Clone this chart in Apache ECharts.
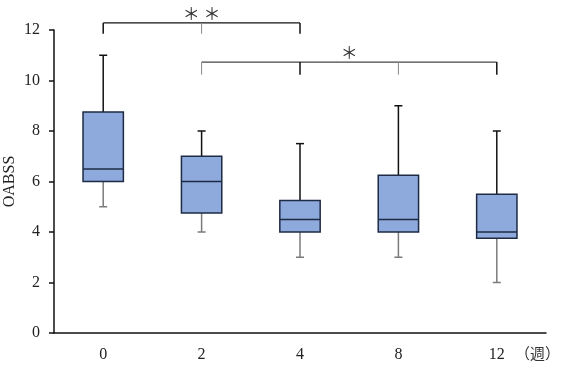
<!DOCTYPE html>
<html>
<head>
<meta charset="utf-8">
<script src="https://cdn.jsdelivr.net/npm/echarts@6/dist/echarts.min.js"></script>
</head>
<body style="margin:0;background:#fff">
<div id="main" style="width:564px;height:371px"></div>
<script>
// OABSS per week (boxplot values)
var weeks = ['0', '2', '4', '8', '12'];
var lowValues = [5, 4, 3, 3, 2];
var q1Values = [6, 4.75, 4, 4, 3.75];
var medianValues = [6.5, 6, 4.5, 4.5, 4];
var q3Values = [8.75, 7, 5.25, 6.25, 5.5];
var highValues = [11, 8, 7.5, 9, 8];

// significance brackets
var bracketFrom = [0, 1];
var bracketTo = [2, 4];
var bracketLevel = [12.28, 10.73];
var bracketDrop = [0.43, 0.5];
var bracketDarkTicks = [[0, 2], [2, 4]];
var bracketMarks = ['＊ ＊', '＊'];
var bracketMarkAt = [1, 2.5];

var serif = '"Liberation Serif", "DejaVu Serif", serif';
var boxFill = '#8EA9DB';
var boxEdge = '#1E2B44';

var boxData = weeks.map(function (w, i) {
    return [i, lowValues[i], q1Values[i], medianValues[i], q3Values[i], highValues[i]];
});
var bracketData = bracketFrom.map(function (f, i) {
    return [f, bracketTo[i], bracketLevel[i], bracketDrop[i], bracketMarkAt[i], i];
});

function line(x1, y1, x2, y2, color, width) {
    return {
        type: 'line',
        shape: {x1: x1, y1: y1, x2: x2, y2: y2},
        style: {stroke: color, lineWidth: width}
    };
}

function renderBox(params, api) {
    var i = api.value(0);
    var low = api.coord([i, api.value(1)]);
    var q1 = api.coord([i, api.value(2)]);
    var med = api.coord([i, api.value(3)]);
    var q3 = api.coord([i, api.value(4)]);
    var high = api.coord([i, api.value(5)]);
    var x = q1[0];
    var w = api.size([1, 0])[0] * 0.41;
    var cap = 4;
    return {
        type: 'group',
        children: [
            line(x, q3[1], x, high[1], '#111', 1.5),
            line(x - cap, high[1], x + cap, high[1], '#111', 1.5),
            line(x, q1[1], x, low[1], '#7a7a7a', 1.5),
            line(x - cap, low[1], x + cap, low[1], '#7a7a7a', 1.5),
            {
                type: 'rect',
                shape: {x: x - w / 2, y: q3[1], width: w, height: q1[1] - q3[1]},
                style: {fill: boxFill, stroke: boxEdge, lineWidth: 1.5}
            },
            line(x - w / 2, med[1], x + w / 2, med[1], boxEdge, 1.5)
        ]
    };
}

function renderBracket(params, api) {
    var from = api.value(0), to = api.value(1), level = api.value(2);
    var drop = api.value(3), markAt = api.value(4), k = api.value(5);
    var a = api.coord([from, level]);
    var b = api.coord([to, level]);
    var bottom = api.coord([from, level - drop])[1];
    var children = [line(a[0], a[1], b[0], b[1], k === 0 ? '#111' : '#444', 1.3)];
    for (var j = from; j <= to; j++) {
        var p = api.coord([j, level]);
        var dark = bracketDarkTicks[k].indexOf(j) >= 0;
        children.push(line(p[0], a[1], p[0], bottom, dark ? '#111' : '#888', dark ? 1.5 : 1));
    }
    var mx = api.coord([from, level])[0] + (markAt - from) * api.size([1, 0])[0];
    children.push({
        type: 'text',
        style: {
            x: mx, y: a[1] - 1,
            text: bracketMarks[k],
            font: '17px "Noto Sans CJK JP"',
            fill: '#333',
            align: 'center',
            verticalAlign: 'bottom'
        }
    });
    return {type: 'group', children: children};
}

var chart = echarts.init(document.getElementById('main'));
chart.setOption({
    animation: false,
    grid: {left: 54, right: 18, top: 30, bottom: 38, containLabel: false, outerBoundsMode: 'none'},
    xAxis: {
        type: 'category',
        data: weeks,
        name: '（週）',
        nameLocation: 'end',
        nameGap: -31,
        nameTextStyle: {
            fontFamily: '"Noto Sans CJK JP"', fontSize: 15, color: '#333',
            align: 'left', verticalAlign: 'top',
            padding: [13, 0, 0, 0]
        },
        axisLine: {lineStyle: {color: '#111', width: 1.5}},
        axisTick: {length: 5, lineStyle: {color: '#111', width: 1.5}},
        axisLabel: {fontFamily: serif, fontSize: 16, color: '#222', margin: 14}
    },
    yAxis: {
        type: 'value',
        min: 0,
        max: 12,
        interval: 2,
        name: 'OABSS',
        nameLocation: 'middle',
        nameGap: 36,
        nameMoveOverlap: false,
        nameTextStyle: {fontFamily: serif, fontSize: 16, color: '#222'},
        axisLine: {show: true, lineStyle: {color: '#111', width: 1.5}},
        axisTick: {show: true, length: 5, lineStyle: {color: '#111', width: 1.5}},
        axisLabel: {fontFamily: serif, fontSize: 16, color: '#222', margin: 14},
        splitLine: {show: false}
    },
    series: [
        {type: 'custom', renderItem: renderBox, data: boxData, clip: false},
        {type: 'custom', renderItem: renderBracket, data: bracketData, clip: false}
    ]
});
</script>
</body>
</html>
